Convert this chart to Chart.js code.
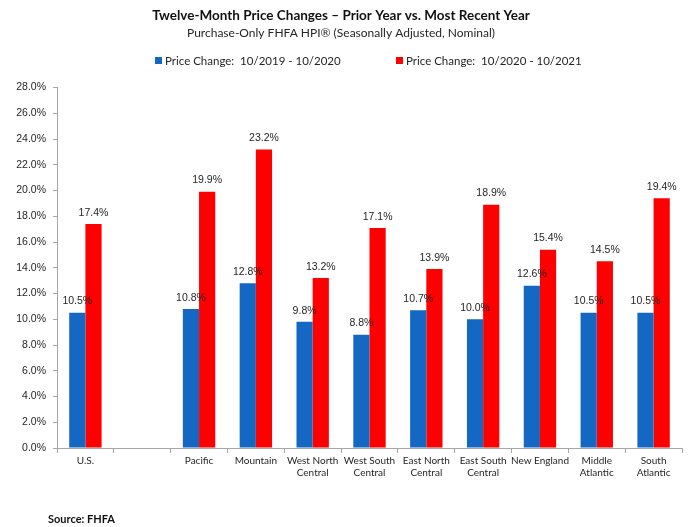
<!DOCTYPE html>
<html>
<head>
<meta charset="utf-8">
<script src="https://cdn.jsdelivr.net/npm/chart.js@4/dist/chart.umd.min.js"></script>
<style>
  html, body { margin: 0; padding: 0; background: #fff; }
  #wrap { width: 691px; height: 527px; }
</style>
</head>
<body>
<div id="wrap"><canvas id="hpi"></canvas></div>
<script>
// Regions (the blank slot keeps the gap after U.S.)
const REGIONS = [
  'U.S.', '', 'Pacific', 'Mountain',
  ['West North', 'Central'], ['West South', 'Central'],
  ['East North', 'Central'], ['East South', 'Central'],
  'New England', ['Middle', 'Atlantic'], ['South', 'Atlantic'],
];

// Twelve-month change, percent
const PRIOR_YEAR = [10.5, null, 10.8, 12.8, 9.8, 8.8, 10.7, 10.0, 12.6, 10.5, 10.5];
const RECENT_YEAR = [17.4, null, 19.9, 23.2, 13.2, 17.1, 13.9, 18.9, 15.4, 14.5, 19.4];

const SERIES_NAMES = ['Price Change:  10/2019 - 10/2020', 'Price Change:  10/2020 - 10/2021'];
const Y_MAX = 28;
const Y_STEP = 2;

const BLUE = '#1467C2';
const RED = '#FF0000';
const AXIS = '#A6A6A6';
const TEXT = '#262626';

// Value labels above each bar
const barLabels = {
  id: 'barLabels',
  afterDatasetsDraw(chart) {
    const ctx = chart.ctx;
    ctx.save();
    ctx.font = "10.5px 'Liberation Sans', Arial, sans-serif";
    ctx.fillStyle = TEXT;
    ctx.textAlign = 'center';
    ctx.textBaseline = 'bottom';
    chart.data.datasets.forEach((ds, i) => {
      chart.getDatasetMeta(i).data.forEach((bar, j) => {
        const v = ds.data[j];
        if (v == null) return;
        ctx.fillText(v.toFixed(1) + '%', bar.x, bar.y - 6);
      });
    });
    ctx.restore();
  },
};

// Header legend + source note
const extras = {
  id: 'extras',
  afterDraw(chart) {
    const ctx = chart.ctx;
    ctx.save();
    ctx.font = "11.5px Lato, 'Open Sans', sans-serif";
    ctx.textBaseline = 'middle';
    ctx.fillStyle = TEXT;
    const items = [[155, BLUE], [396, RED]];
    items.forEach(([x, c], i) => {
      ctx.fillStyle = c;
      ctx.fillRect(x, 57, 7, 7);
      ctx.fillStyle = TEXT;
      ctx.fillText(SERIES_NAMES[i], x + 10, 61);
    });
    ctx.font = "bold 11px Lato, 'Open Sans', sans-serif";
    ctx.fillStyle = '#111';
    ctx.fillText('Source: FHFA', 48, 519);
    ctx.restore();
  },
};

new Chart(document.getElementById('hpi'), {
  type: 'bar',
  data: {
    labels: REGIONS,
    datasets: [
      { label: SERIES_NAMES[0], data: PRIOR_YEAR, backgroundColor: BLUE },
      { label: SERIES_NAMES[1], data: RECENT_YEAR, backgroundColor: RED },
    ],
  },
  options: {
    responsive: true,
    maintainAspectRatio: false,
    animation: false,
    layout: { padding: { left: 0, right: 9, top: 0, bottom: 46 } },
    datasets: { bar: { barPercentage: 1, categoryPercentage: 0.57 } },
    plugins: {
      legend: { display: false },
      tooltip: { enabled: false },
      title: {
        display: true,
        text: 'Twelve-Month Price Changes \u2013 Prior Year vs. Most Recent Year',
        color: '#111',
        font: { family: "Lato, 'Open Sans', sans-serif", size: 13.5, weight: 'bold' },
        padding: { top: 8, bottom: 2 },
      },
      subtitle: {
        display: true,
        text: 'Purchase-Only FHFA HPI\u00AE (Seasonally Adjusted, Nominal)',
        color: TEXT,
        font: { family: "Lato, 'Open Sans', sans-serif", size: 12 },
        padding: { bottom: 47 },
      },
    },
    scales: {
      x: {
        grid: { display: true, drawOnChartArea: false, tickLength: 5, color: AXIS, offset: true },
        border: { color: AXIS },
        ticks: {
          color: TEXT,
          maxRotation: 0,
          autoSkip: false,
          padding: 2,
          font: { family: "Lato, 'Open Sans', sans-serif", size: 10 },
        },
      },
      y: {
        min: 0,
        max: Y_MAX,
        afterFit(scale) { scale.width = 57; },
        grid: { display: true, drawOnChartArea: false, tickLength: 4, color: AXIS },
        border: { color: AXIS },
        ticks: {
          stepSize: Y_STEP,
          color: TEXT,
          padding: 7,
          font: { family: "'Liberation Sans', Arial, sans-serif", size: 10.5 },
          callback: (v) => v.toFixed(1) + '%',
        },
      },
    },
  },
  plugins: [barLabels, extras],
});
</script>
</body>
</html>
